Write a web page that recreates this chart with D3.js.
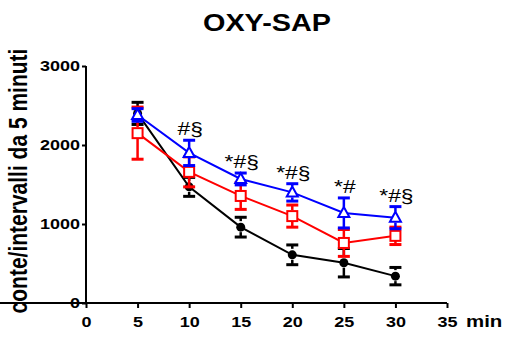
<!DOCTYPE html>
<html><head><meta charset="utf-8">
<script src="https://cdn.jsdelivr.net/npm/d3@7"></script>
<style>body{margin:0;background:#fff}svg{display:block}</style>
</head><body>
<svg id="c" width="506" height="338"></svg>
<script>
const times = [5, 10, 15, 20, 25, 30];
const blackMean = [2400, 1470, 960, 610, 510, 340];
const blackErr  = [140, 120, 125, 125, 180, 110];
const redMean   = [2150, 1660, 1355, 1100, 760, 850];
const redErr    = [330, 190, 170, 140, 170, 110];
const blueMean  = [2380, 1900, 1570, 1400, 1140, 1080];
const blueErr   = [80, 160, 75, 110, 190, 140];
const annotations = ["", "#§", "*#§", "*#§", "*#", "*#§"];
const xTicks = [0, 5, 10, 15, 20, 25, 30, 35];
const yTicks = [0, 1000, 2000, 3000];

const svg = d3.select("#c");
const x = d3.scaleLinear().domain([0, 35]).range([86, 447]);
const y = d3.scaleLinear().domain([0, 3000]).range([303, 66]);
const font = "'Liberation Sans', Arial, sans-serif";
const SX = 1.2;

const xAxis = svg.append("g").attr("transform", "translate(0,303)")
  .call(d3.axisBottom(x).tickValues(xTicks).tickSize(5).tickPadding(8).tickFormat(d3.format("d")));
const yAxis = svg.append("g").attr("transform", "translate(86,0)")
  .call(d3.axisLeft(y).tickValues(yTicks).tickSize(4).tickPadding(1).tickFormat(d3.format("d")));
[xAxis, yAxis].forEach(a => {
  a.select(".domain").attr("stroke", "#000").attr("stroke-width", 2);
  a.selectAll(".tick line").attr("stroke", "#000").attr("stroke-width", 2);
  a.selectAll(".tick text").attr("font-family", font).attr("font-weight", "bold")
    .attr("font-size", 15).attr("fill", "#000").attr("transform", `scale(${SX},1)`);
});
xAxis.select(".domain").attr("d", "M0,0H447");
yAxis.select(".domain").attr("d", "M0,66V303");

function label(tx, ty, txt, size, bold, anchor) {
  svg.append("text").attr("transform", `translate(${tx},${ty}) scale(${SX},1)`)
    .attr("text-anchor", anchor).attr("font-family", font)
    .attr("font-weight", bold ? "bold" : "normal").attr("font-size", size).text(txt);
}
label(267, 31, "OXY-SAP", 24, true, "middle");
label(466, 327, "min", 17, true, "start");
svg.append("text").attr("transform", `translate(27,181) rotate(-90) scale(1,${SX})`).attr("text-anchor", "middle")
  .attr("font-family", font).attr("font-weight", "bold").attr("font-size", 21).text("conte/intervalli da 5 minuti");

function drawSeries(mean, err, color, shape) {
  const g = svg.append("g");
  const data = times.map((t, i) => ({t, m: mean[i], e: err[i]}));
  g.append("path").datum(data).attr("fill", "none").attr("stroke", color).attr("stroke-width", 2)
    .attr("d", d3.line().x(d => x(d.t)).y(d => y(d.m)));
  const mk = g.selectAll(".mk").data(data).enter();
  if (shape === "circle") {
    mk.append("circle").attr("cx", d => x(d.t)).attr("cy", d => y(d.m)).attr("r", 4.5).attr("fill", color);
  } else if (shape === "square") {
    mk.append("rect").attr("x", d => x(d.t) - 5).attr("y", d => y(d.m) - 5).attr("width", 10).attr("height", 10)
      .attr("fill", "#fff").attr("stroke", color).attr("stroke-width", 2);
  } else {
    mk.append("path").attr("transform", d => `translate(${x(d.t)},${y(d.m)})`)
      .attr("d", "M0,-6L5.5,4L-5.5,4Z").attr("fill", "#fff").attr("stroke", color).attr("stroke-width", 2);
  }
  const eb = g.selectAll(".eb").data(data).enter().append("g");
  eb.append("line").attr("x1", d => x(d.t)).attr("x2", d => x(d.t))
    .attr("y1", d => y(d.m + d.e)).attr("y2", d => y(d.m) - 6).attr("stroke", color).attr("stroke-width", 2.5);
  eb.append("line").attr("x1", d => x(d.t)).attr("x2", d => x(d.t))
    .attr("y1", d => y(d.m) + 5).attr("y2", d => y(d.m - d.e)).attr("stroke", color).attr("stroke-width", 2.5);
  [1, -1].forEach(s => eb.append("line").attr("x1", d => x(d.t) - 6).attr("x2", d => x(d.t) + 6)
    .attr("y1", d => y(d.m + s * d.e)).attr("y2", d => y(d.m + s * d.e)).attr("stroke", color).attr("stroke-width", 3));
}
drawSeries(blackMean, blackErr, "#000", "circle");
drawSeries(redMean, redErr, "#ff0000", "square");
drawSeries(blueMean, blueErr, "#0000ff", "triangle");

svg.selectAll(".ann").data(times.map((t, i) => ({t, a: annotations[i], v: blueMean[i] + blueErr[i]})))
  .enter().append("text").attr("transform", d => `translate(${x(d.t) + 1},${y(d.v) - 5}) scale(${SX},1)`)
  .attr("text-anchor", "middle").attr("font-family", font).attr("font-size", 19).attr("fill", "#000")
  .text(d => d.a);
</script>
</body></html>
